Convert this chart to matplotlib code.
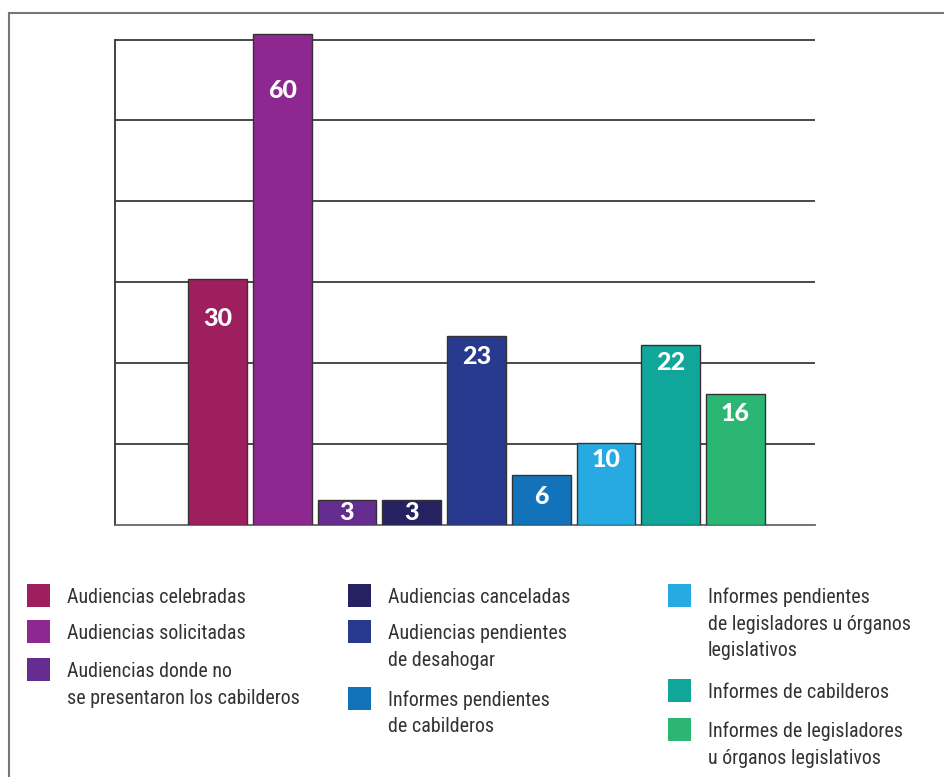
import matplotlib
matplotlib.use("Agg")
import matplotlib.pyplot as plt
from matplotlib.patches import Rectangle
from matplotlib.lines import Line2D
from matplotlib import font_manager

# ---- data ----
categories = [
    "Audiencias celebradas",
    "Audiencias solicitadas",
    "Audiencias donde no\nse presentaron los cabilderos",
    "Audiencias canceladas",
    "Audiencias pendientes\nde desahogar",
    "Informes pendientes\nde cabilderos",
    "Informes pendientes\nde legisladores u órganos\nlegislativos",
    "Informes de cabilderos",
    "Informes de legisladores\nu órganos legislativos",
]
values = [30, 60, 3, 3, 23, 6, 10, 22, 16]
colors = ["#9E1F5E", "#8E278F", "#652D90", "#262262", "#283A8E",
          "#1272BA", "#27AAE1", "#10A69A", "#2BB673"]

# ---- style ----
W, H = 944, 777
label_offset_px = [39, 57, 13, 13, 20, 21, 17, 18, 20]
grid_step = 9.88
ymax = 62

fonts = font_manager.fontManager.ttflist
names = {f.name for f in fonts}
legend_font = None
for cand in ["Liberation Sans Narrow", "Roboto Condensed", "Open Sans Condensed",
             "DejaVu Sans Condensed", "Noto Sans Condensed"]:
    if cand in names:
        legend_font = cand
        break
legend_stretch = "normal"
if legend_font is None:
    for f in fonts:
        if ("Narrow" in f.name or "Condensed" in f.name) and f.weight in (400, "normal", "regular"):
            legend_font = f.name
            break
if legend_font is None:
    for f in fonts:
        if str(f.stretch) in ("condensed", "semi-condensed", "75", "87.5") or f.stretch in (75, 87):
            legend_font = f.name
            legend_stretch = f.stretch
            break
if legend_font is None:
    legend_font = "Roboto"
num_font = "Lato" if "Lato" in names else "DejaVu Sans"

fig = plt.figure(figsize=(W / 100, H / 100), dpi=100)
fig.patch.set_facecolor("white")

def fx(px):
    return px / W

def fy(py):
    return 1 - py / H

ax_left, ax_right, ax_bottom, ax_top = 115, 815, 524.5, 524.5 - ymax * 8.18
ax = fig.add_axes([fx(ax_left), fy(ax_bottom), (ax_right - ax_left) / W,
                   (ax_bottom - ax_top) / H])

x = list(range(len(values)))
bars = ax.bar(x, values, width=0.91, color=colors, edgecolor="#333333",
              linewidth=1.0, zorder=3)
ax.set_xlim(-1.583, 9.228)
ax.set_ylim(0, ymax)

for i in range(1, 7):
    ax.axhline(i * grid_step, color="#3a3a3a", linewidth=1.3, zorder=1)

for s in ["top", "right"]:
    ax.spines[s].set_visible(False)
ax.spines["left"].set_color("#333333")
ax.spines["left"].set_linewidth(1.3)
ax.spines["left"].set_bounds(0, 6 * grid_step)
ax.spines["bottom"].set_color("#666666")
ax.spines["bottom"].set_linewidth(1.3)
ax.set_xticks([])
ax.set_yticks([])

for xi, v, off in zip(x, values, label_offset_px):
    ax.annotate(str(v), (xi, v), xytext=(0, -off * 0.72), textcoords="offset points",
                ha="center", va="center", color="white", fontsize=18,
                fontweight=900, family=num_font, zorder=4)

fig.add_artist(Line2D([fx(8.7), fx(8.7)], [fy(12.7), 0], color="#777777",
                      linewidth=1.5, transform=fig.transFigure))
fig.add_artist(Line2D([fx(8.7), 1], [fy(12.7), fy(12.7)], color="#777777",
                      linewidth=1.5, transform=fig.transFigure))

col_x = [27, 348, 668]
col_members = [[0, 1, 2], [3, 4, 5], [6, 7, 8]]
square_tops = [[584, 620, 658], [584, 620, 687], [584, 679, 718]]
sq = 23
line_gap = 26.5
legend_texts = []
for cx, members, tops in zip(col_x, col_members, square_tops):
    for idx, top in zip(members, tops):
        fig.add_artist(Rectangle((fx(cx), fy(top + sq)), sq / W, sq / H,
                                 transform=fig.transFigure, facecolor=colors[idx],
                                 edgecolor="none"))
        for j, line in enumerate(categories[idx].split("\n")):
            t = fig.text(fx(cx + 40), fy(top + 19 + j * line_gap), line,
                         ha="left", va="baseline", fontsize=16, color="#333333",
                         family=legend_font, stretch=legend_stretch)
            legend_texts.append(t)

fig.canvas.draw()
r = fig.canvas.get_renderer()
w = legend_texts[0].get_window_extent(r).width
scale = min(1.0, 179.0 / w)
if scale < 1.0:
    for t in legend_texts:
        t.set_fontsize(16 * scale)

fig.savefig("out.png", dpi=100, facecolor="white")
